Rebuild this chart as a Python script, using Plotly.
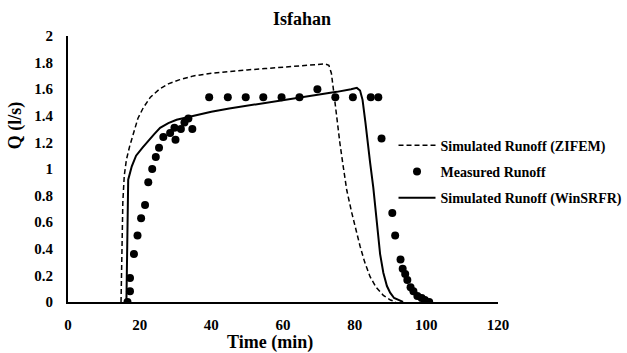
import plotly.graph_objects as go

# Measured runoff hydrograph (time in min, discharge in l/s)
measured_t = [16.6, 17.3, 17.3, 18.4, 19.4, 20.4, 21.5, 22.4, 23.5, 24.5, 25.4, 26.6,
              28.5, 29.7, 30.0, 31.5, 32.5, 33.6, 34.7,
              39.4, 44.6, 49.6, 54.5, 59.6, 64.6, 69.6, 74.6, 79.5, 84.5, 86.6, 87.5,
              90.5, 91.3, 92.8, 93.4, 94.1, 94.7, 95.6, 96.4, 97.5, 98.7, 99.6, 100.8]
measured_q = [0.0, 0.08, 0.18, 0.36, 0.50, 0.63, 0.73, 0.90, 1.00, 1.09, 1.16, 1.24,
              1.27, 1.31, 1.22, 1.30, 1.35, 1.38, 1.30,
              1.54, 1.54, 1.54, 1.54, 1.54, 1.54, 1.60, 1.54, 1.54, 1.54, 1.54, 1.23,
              0.67, 0.50, 0.32, 0.25, 0.21, 0.165, 0.11, 0.08, 0.045, 0.03, 0.015, 0.0]

# ZIFEM simulated hydrograph
zifem_t = [14.8, 15.0, 15.3, 15.7, 16.3, 17.2, 18.3, 19.5, 21.0, 23.0, 25.5, 28.0, 31.0,
           35.0, 40.0, 45.0, 50.0, 55.0, 60.0, 65.0, 70.0, 71.8, 72.8, 73.5, 74.2, 75.0,
           75.9, 76.8, 77.8, 79.2, 80.3, 81.5, 82.8, 84.3, 86.0, 88.0, 90.0, 91.5]
zifem_q = [0.0, 0.40, 0.75, 0.95, 1.07, 1.17, 1.28, 1.38, 1.46, 1.54, 1.60, 1.64, 1.67,
           1.70, 1.72, 1.735, 1.745, 1.755, 1.765, 1.775, 1.785, 1.79, 1.78, 1.72, 1.57, 1.38,
           1.19, 1.02, 0.84, 0.67, 0.54, 0.42, 0.30, 0.19, 0.11, 0.05, 0.015, 0.0]

# WinSRFR simulated hydrograph
winsrfr_t = [16.3, 16.6, 16.8, 17.8, 19.0, 20.8, 22.0, 24.0, 25.7, 28.0, 30.3, 35.0, 40.0,
             45.0, 50.0, 55.0, 60.0, 65.0, 70.0, 75.0, 79.0, 80.6, 81.5, 82.2, 83.0, 83.5,
             84.3, 85.2, 86.3, 87.1, 88.0, 89.0, 89.9, 91.0, 92.7, 93.5]
winsrfr_q = [0.0, 0.50, 0.92, 1.02, 1.10, 1.16, 1.20, 1.26, 1.31, 1.345, 1.37, 1.40, 1.43,
             1.455, 1.475, 1.50, 1.52, 1.54, 1.56, 1.58, 1.60, 1.61, 1.59, 1.52, 1.35, 1.22,
             1.05, 0.86, 0.54, 0.36, 0.22, 0.12, 0.07, 0.03, 0.01, 0.0]

x_ticks = [0, 20, 40, 60, 80, 100, 120]
x_tick_text = ["0", "20", "40", "60", "80", "100", "120"]
y_ticks = [0, 0.2, 0.4, 0.6, 0.8, 1, 1.2, 1.4, 1.6, 1.8, 2]
y_tick_text = ["0", "0.2", "0.4", "0.6", "0.8", "1", "1.2", "1.4", "1.6", "1.8", "2"]

FONT = "Liberation Serif, Times New Roman, serif"


def bold(labels):
    return ["<b>%s</b>" % s for s in labels]


tick_font = dict(family=FONT, size=15, color="black", weight="bold")

fig = go.Figure()
fig.add_trace(go.Scatter(
    x=zifem_t, y=zifem_q, mode="lines", name="<b>Simulated Runoff (ZIFEM)</b>",
    legendgroup="a", line=dict(color="black", width=1.5, dash="5px,3px")))
fig.add_trace(go.Scatter(
    x=measured_t, y=measured_q, mode="markers", name="<b>Measured Runoff</b>",
    legendgroup="b", marker=dict(color="black", size=8)))
fig.add_trace(go.Scatter(
    x=winsrfr_t, y=winsrfr_q, mode="lines", name="<b>Simulated Runoff (WinSRFR)</b>",
    legendgroup="c", line=dict(color="black", width=2)))

fig.update_layout(
    width=627, height=353,
    margin=dict(l=68, r=129, t=36, b=51, autoexpand=False),
    paper_bgcolor="white", plot_bgcolor="white",
    font=dict(family=FONT, color="black", size=15),
    showlegend=True,
    legend=dict(x=0.757, y=0.648, xanchor="left", yanchor="top", itemwidth=37,
                bgcolor="rgba(0,0,0,0)", font=dict(size=14, family=FONT, color="black"),
                tracegroupgap=5, traceorder="grouped"),
    title=dict(text="<b>Isfahan</b>", x=0.544, xref="paper", xanchor="center",
               y=1 - 19 / 353, yref="container", yanchor="middle",
               font=dict(size=18, family=FONT, color="black")),
    xaxis=dict(range=[0, 120], tickvals=x_ticks, ticktext=bold(x_tick_text),
               tickfont=tick_font, showline=True, linecolor="black",
               linewidth=2, showgrid=False, zeroline=False, ticks="",
               ticklabelstandoff=8, fixedrange=True),
    yaxis=dict(range=[0, 2], tickvals=y_ticks, ticktext=bold(y_tick_text),
               tickfont=tick_font, showline=True,
               linecolor="black", linewidth=2, showgrid=False, zeroline=False, ticks="",
               ticklabelstandoff=10, fixedrange=True),
    annotations=[
        dict(text="<b>Time (min)</b>", x=0.47, y=-0.154, xref="paper", yref="paper",
             showarrow=False, xanchor="center", yanchor="middle",
             font=dict(size=18, family=FONT, color="black")),
        dict(text="<b>Q (l/s)</b>", x=-0.123, y=0.665, xref="paper", yref="paper",
             showarrow=False, xanchor="center", yanchor="middle", textangle=-90,
             font=dict(size=18, family=FONT, color="black")),
    ],
)

fig.write_html("out.html")
